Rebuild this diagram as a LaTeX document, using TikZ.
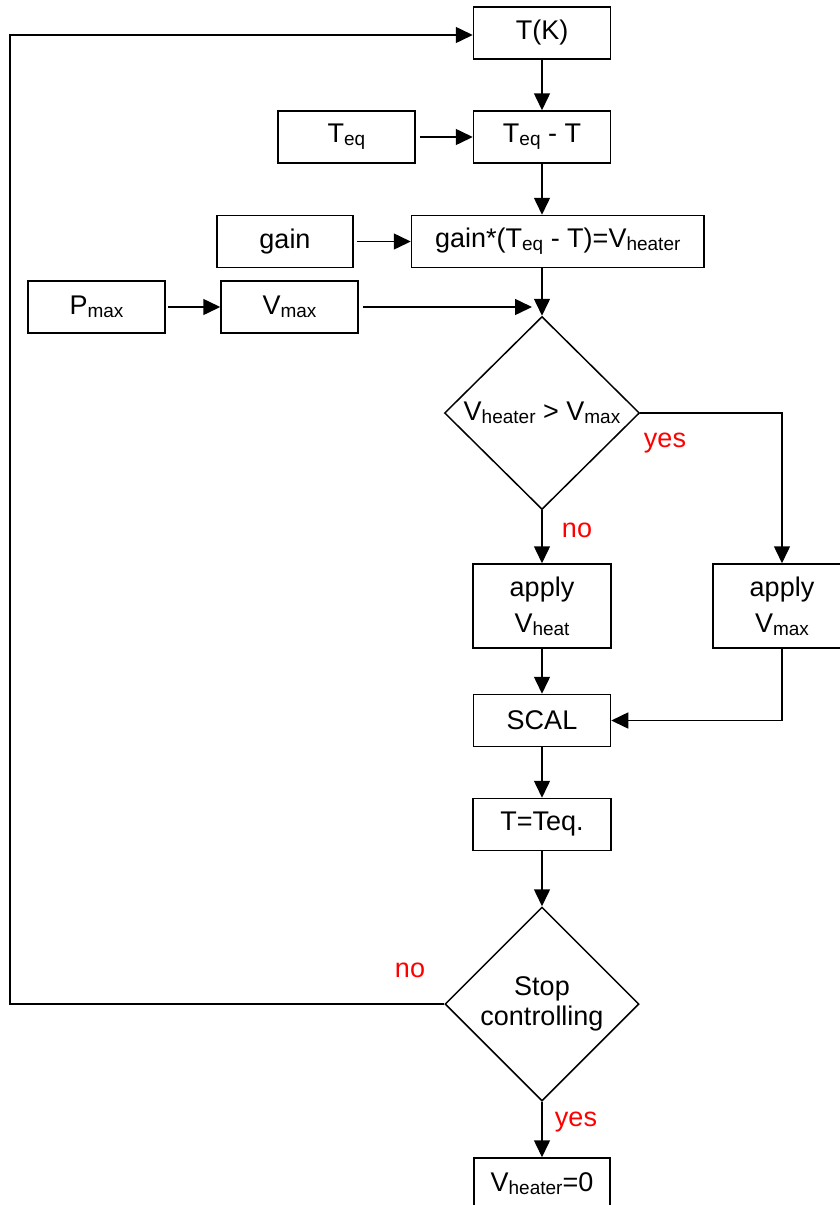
\documentclass[tikz,border=0pt]{standalone}
\usepackage{fontspec}
\setmainfont{Liberation Sans}
\usetikzlibrary{arrows.meta,shapes.geometric}
% lowered, smaller index text
\newcommand\lowidx[1]{\raisebox{-3pt}{\fontsize{19}{20}\selectfont #1}}
\begin{document}
\begin{tikzpicture}[x=1pt,y=-1pt,
  txt/.style={font=\fontsize{27}{30}\selectfont},
  box/.style={txt,draw,line width=1.5pt,rectangle,inner sep=0pt,minimum height=52pt,minimum width=137pt},
  tallbox/.style={box,minimum height=84pt,align=center,font=\fontsize{27}{36}\selectfont},
  decision/.style={txt,draw,line width=1.5pt,diamond,inner sep=0pt,align=center},
  arr/.style={line width=1.5pt,-{Triangle[length=17pt,width=16pt]}},
  lab/.style={txt,text=red,inner sep=0pt}]
\useasboundingbox (0,0) rectangle (839,1205);

% boxes
\node[box] (tk) at (542,33) {T(K)};
\node[box] (tmt) at (542,137) {T\lowidx{eq} - T};
\node[box] (teq) at (346.5,137) {T\lowidx{eq}};
\node[box,minimum width=136pt] (gain) at (285,241.5) {gain};
\node[box,minimum width=292.5pt] (gcalc) at (557.75,241.5) {gain*(T\lowidx{eq} - T)=V\lowidx{heater}};
\node[box] (pmax) at (96.5,307) {P\lowidx{max}};
\node[box] (vmax) at (289.5,307) {V\lowidx{max}};
\node[decision,minimum width=195pt,minimum height=193pt] (d1) at (542,413) {V\lowidx{heater} > V\lowidx{max}};
\node[tallbox,minimum width=138pt] (aheat) at (542,606) {apply\\V\lowidx{heat}};
\node[tallbox,minimum width=138pt] (amax) at (782,606) {apply\\V\lowidx{max}};
\node[box] (scal) at (542,720.5) {SCAL};
\node[box,minimum width=138pt] (teqset) at (542,824.5) {T=Teq.};
\node[decision,minimum width=194pt,minimum height=194pt] (d2) at (542,1004) {Stop\\controlling};
\node[box,minimum width=136pt] (v0) at (542,1184) {V\lowidx{heater}=0};

% branch labels
\node[lab] (yes1) at (665,443) {yes};
\node[lab] (no1) at (577,530) {no};
\node[lab] (no2) at (410,970) {no};
\node[lab] (yes2) at (576,1122) {yes};

% helper points
\coordinate (merge) at (532,307);
\coordinate (loopbot) at (10,1004);
\coordinate (yesturn) at (782,413);

% connectors
\draw[arr] (tk.south) -- (tmt.north);
\draw[arr,shorten <=4pt] (teq.east) -- (tmt.west);
\draw[arr] (tmt.south) -- (tmt.south |- gcalc.north);
\draw[arr,shorten <=3pt] (gain.east) -- (gcalc.west);
\draw[arr,shorten <=2pt] (pmax.east) -- (vmax.west);
\draw[arr,shorten <=4pt] (vmax.east) -- (merge);
\draw[arr] (d1.north |- gcalc.south) -- (d1.north);
\draw[arr] (d1.east) -- (yesturn) -- (amax.north);
\draw[arr] (d1.south) -- (aheat.north);
\draw[arr] (aheat.south) -- (scal.north);
\draw[arr] (amax.south) |- (scal.east);
\draw[arr] (scal.south) -- (teqset.north);
\draw[arr] (teqset.south) -- (d2.north);
\draw[arr] (d2.south) -- (v0.north);
\draw[arr] (d2.west) -- (loopbot) |- ([yshift=-2pt]tk.west);
\end{tikzpicture}
\end{document}
